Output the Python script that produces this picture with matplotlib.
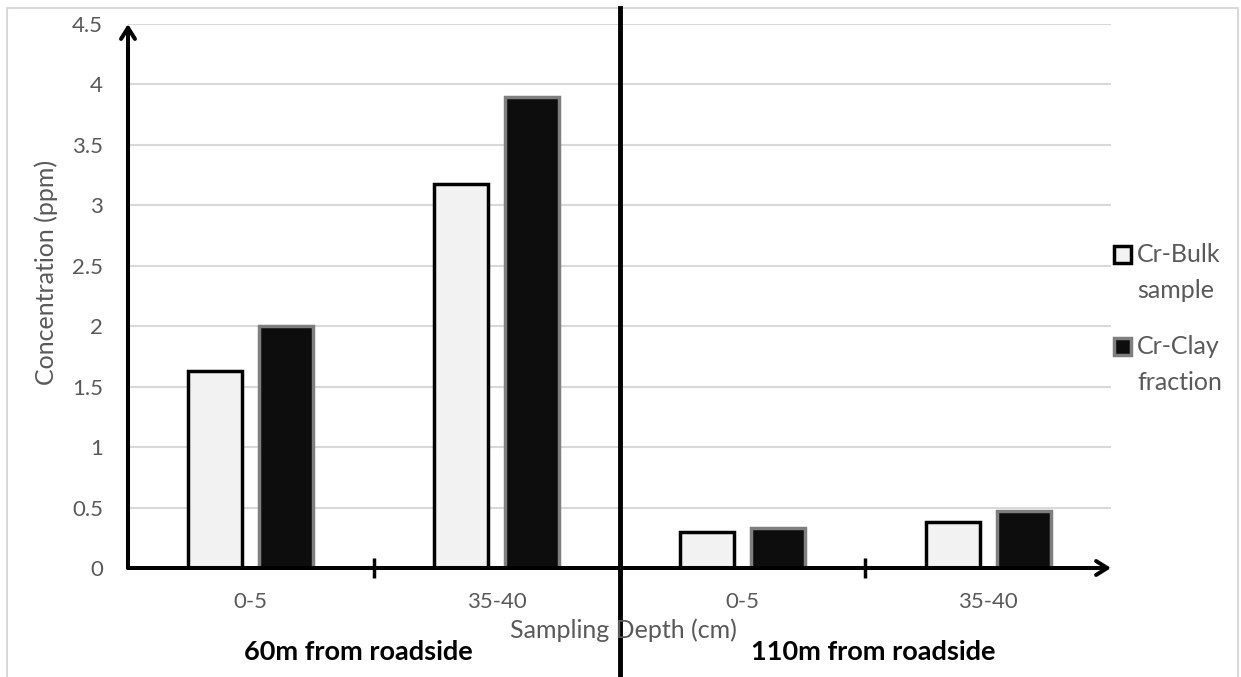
import matplotlib
matplotlib.use("Agg")
import matplotlib.pyplot as plt
from matplotlib.patches import Rectangle
from matplotlib.lines import Line2D

plt.rcParams["font.family"] = ["Lato", "DejaVu Sans"]

# data
depths = ["0-5", "35-40", "0-5", "35-40"]
sites = ["60m from roadside", "110m from roadside"]
series_names = ["Cr-Bulk\nsample", "Cr-Clay\nfraction"]
bulk = [1.63, 3.18, 0.30, 0.38]
clay = [2.00, 3.90, 0.33, 0.47]
yticks = [0, 0.5, 1, 1.5, 2, 2.5, 3, 3.5, 4, 4.5]

GREY = "#595959"
W, H = 1241, 677

fig = plt.figure(figsize=(W / 100, H / 100), dpi=100)
ax = fig.add_axes([128 / W, 109 / H, (1111 - 128) / W, 544 / H])

x = range(len(depths))
off, bw = 0.1445, 0.22
ax.bar([i - off for i in x], bulk, width=bw, color="#f2f2f2",
       edgecolor="black", linewidth=2.5, zorder=3)
ax.bar([i + off for i in x], clay, width=bw, color="#0d0d0d",
       edgecolor="#7f7f7f", linewidth=2.5, zorder=3)

ax.set_xlim(-0.5, 3.5)
ax.set_ylim(0, 4.5)
ax.set_yticks(yticks)
ax.set_yticklabels([f"{t:g}" for t in yticks], fontsize=16, color=GREY)
ax.tick_params(axis="y", length=0, pad=18)
ax.set_xticks(list(x))
ax.set_xticklabels(depths, fontsize=16, color=GREY)
ax.tick_params(axis="x", which="major", length=0, pad=17)
ax.set_xticks([0.5, 1.5, 2.5], minor=True)
ax.tick_params(axis="x", which="minor", direction="inout", length=14,
               width=2.5, color="black")
ax.grid(axis="y", color="#d9d9d9", linewidth=1.5, zorder=0)
for s in ax.spines.values():
    s.set_visible(False)

# axes drawn as arrows
arrow = dict(arrowstyle="->,head_length=0.8,head_width=0.5",
             lw=2.9, color="black", shrinkA=0, shrinkB=0)
ax.annotate("", xy=(0, 1), xytext=(0, 0), xycoords="axes fraction",
            arrowprops=arrow, zorder=5)
ax.annotate("", xy=(1, 0), xytext=(0, 0), xycoords="axes fraction",
            arrowprops=arrow, zorder=5)

# divider between the two sites
ax.axvline(1.5, ymin=-0.21, ymax=(669 - 109) / 544, color="black",
           linewidth=3.5, clip_on=False, zorder=6)

fig.text(46 / W, 1 - 272 / H, "Concentration (ppm)", fontsize=18, color=GREY,
         rotation=90, ha="center", va="center")
fig.text(623 / W, 1 - 630 / H, "Sampling Depth (cm)", fontsize=18, color=GREY,
         ha="center", va="center")
fig.text(358 / W, 1 - 652 / H, sites[0], fontsize=19.5, fontweight="bold",
         ha="center", va="center")
fig.text(873 / W, 1 - 652 / H, sites[1], fontsize=19.5, fontweight="bold",
         ha="center", va="center")

# legend drawn by hand
styles = [("#f2f2f2", "black"), ("#0d0d0d", "#7f7f7f")]
for (fc, ec), name, yc in zip(styles, series_names, [255, 347]):
    fig.add_artist(Rectangle((1114 / W, 1 - (yc + 8) / H), 17 / W, 17 / H,
                             facecolor=fc, edgecolor=ec, linewidth=2.5,
                             transform=fig.transFigure))
    for k, line in enumerate(name.split("\n")):
        fig.text(1137 / W, 1 - (yc + 35 * k) / H, line, fontsize=18,
                 color=GREY, ha="left", va="center")

# light frame around the chart area
fig.add_artist(Line2D([7 / W, 7 / W, 1238 / W, 1238 / W],
                      [0, 1 - 8 / H, 1 - 8 / H, 0], color="#d9d9d9", lw=1.5,
                      transform=fig.transFigure, zorder=0))

fig.savefig("out.png", dpi=100)
